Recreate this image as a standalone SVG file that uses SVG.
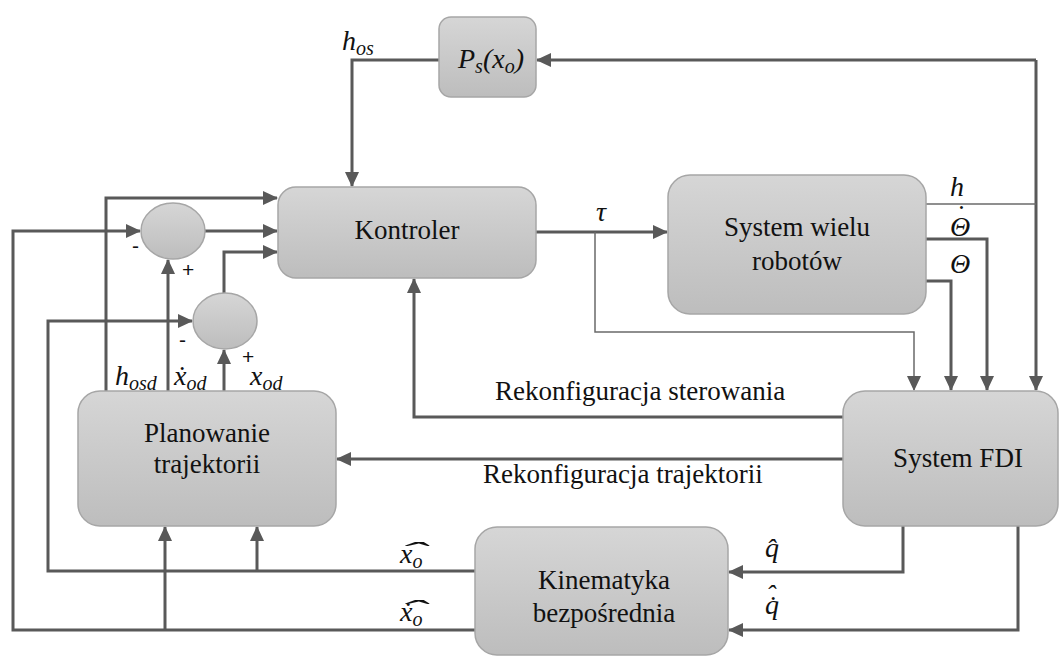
<svg xmlns="http://www.w3.org/2000/svg" width="1059" height="657" viewBox="0 0 1059 657">
<style>
.box{fill:url(#g);stroke:#a6a6a6;stroke-width:1.5}
.c{fill:none;stroke:#595959;stroke-width:3}
.thin{fill:none;stroke:#6a6a6a;stroke-width:1.5}
.t{font-family:"Liberation Serif",serif;font-size:27px;fill:#111;text-anchor:middle}
.r{font-family:"Liberation Serif",serif;font-size:27px;fill:#111}
.m{font-family:"Liberation Serif",serif;font-style:italic;font-size:28px;fill:#111}
.s{font-size:20px}
.pm{font-family:"Liberation Sans",sans-serif;font-size:21px;fill:#111}
</style>
<defs>
<linearGradient id="g" x1="0" y1="0" x2="0" y2="1"><stop offset="0" stop-color="#d6d6d6"/><stop offset="1" stop-color="#bdbdbd"/></linearGradient>
<marker id="a" markerUnits="userSpaceOnUse" markerWidth="15" markerHeight="14" viewBox="0 0 15 14" refX="14" refY="7" orient="auto"><path d="M0,0L15,7L0,14z" fill="#595959"/></marker>
</defs>
<g id="connectors">
<path class="c" d="M439,60H352V186" marker-end="url(#a)"/>
<path class="c" d="M1036,60H537" marker-end="url(#a)"/>
<path class="c" d="M1036,60V390" marker-end="url(#a)"/>
<path class="thin" d="M926,204H1036"/>
<path class="c" d="M536,232H667" marker-end="url(#a)"/>
<path class="thin" d="M595,232V332H914V390" marker-end="url(#a)"/>
<path class="c" d="M926,239H987V390" marker-end="url(#a)"/>
<path class="c" d="M926,281H951V390" marker-end="url(#a)"/>
<path class="c" d="M843,417H414V279" marker-end="url(#a)"/>
<path class="c" d="M843,459H337" marker-end="url(#a)"/>
<path class="c" d="M903,526V572H729" marker-end="url(#a)"/>
<path class="c" d="M1018,526V630H729" marker-end="url(#a)"/>
<path class="c" d="M475,571H48V321H192" marker-end="url(#a)"/>
<path class="c" d="M257,571V527" marker-end="url(#a)"/>
<path class="c" d="M475,630H13V231H140" marker-end="url(#a)"/>
<path class="c" d="M165,630V527" marker-end="url(#a)"/>
<path class="c" d="M106,391V198H277" marker-end="url(#a)"/>
<path class="c" d="M168,391V260" marker-end="url(#a)"/>
<path class="c" d="M224,391V350" marker-end="url(#a)"/>
<path class="c" d="M205,231H277" marker-end="url(#a)"/>
<path class="c" d="M224,293V252H277" marker-end="url(#a)"/>
</g>
<g id="ps"><rect class="box" x="439" y="17" width="97" height="80" rx="12"/>
<text class="m" x="491" y="68" text-anchor="middle">P<tspan class="s" dy="5">s</tspan><tspan dy="-5">(x</tspan><tspan class="s" dy="5">o</tspan><tspan dy="-5">)</tspan></text></g>
<g id="kontroler"><rect class="box" x="278" y="187" width="258" height="91" rx="18"/>
<text class="t" x="407" y="239">Kontroler</text></g>
<g id="system"><rect class="box" x="668" y="175" width="258" height="139" rx="22"/>
<text class="t" x="797" y="236">System wielu</text><text class="t" x="797" y="270">robotów</text></g>
<g id="sum1"><ellipse class="box" cx="173" cy="231" rx="32" ry="28"/></g>
<g id="sum2"><ellipse class="box" cx="225" cy="321" rx="32" ry="28"/></g>
<g id="planowanie"><rect class="box" x="78" y="391" width="258" height="135" rx="22"/>
<text class="t" x="207" y="442">Planowanie</text><text class="t" x="207" y="473">trajektorii</text></g>
<g id="fdi"><rect class="box" x="843" y="391" width="215" height="135" rx="22"/>
<text class="t" x="958" y="467">System FDI</text></g>
<g id="kinematyka"><rect class="box" x="475" y="527" width="253" height="128" rx="22"/>
<text class="t" x="604" y="589">Kinematyka</text><text class="t" x="604" y="622">bezpośrednia</text></g>
<g id="labels">
<text class="r" x="495" y="400">Rekonfiguracja sterowania</text>
<text class="r" x="483" y="483">Rekonfiguracja trajektorii</text>
<text class="m" x="342" y="50">h<tspan class="s" dy="5">os</tspan></text>
<text class="m" x="115" y="385">h<tspan class="s" dy="5">osd</tspan></text>
<text class="m" x="174" y="385">ẋ<tspan class="s" dy="5">od</tspan></text>
<text class="m" x="250" y="385">x<tspan class="s" dy="5">od</tspan></text>
<text class="pm" x="132" y="253">-</text>
<text class="pm" x="182" y="277">+</text>
<text class="pm" x="179" y="347">-</text>
<text class="pm" x="242" y="364">+</text>
<text class="m" x="596" y="221">τ</text>
<text class="m" x="950" y="196">h</text>
<text class="m" x="950" y="236">Θ<tspan x="955" y="224">˙</tspan></text>
<text class="m" x="950" y="273">Θ</text>
<text class="m" x="400" y="563">x<tspan class="s" dy="5">o</tspan><tspan x="398" y="561" textLength="28" lengthAdjust="spacingAndGlyphs">ˆ</tspan></text>
<text class="m" x="400" y="621">ẋ<tspan class="s" dy="5">o</tspan><tspan x="398" y="619" textLength="28" lengthAdjust="spacingAndGlyphs">ˆ</tspan></text>
<text class="m" x="765" y="557">q̂</text>
<text class="m" x="765" y="614">q̇<tspan x="766" y="604">ˆ</tspan></text>
</g>
</svg>
